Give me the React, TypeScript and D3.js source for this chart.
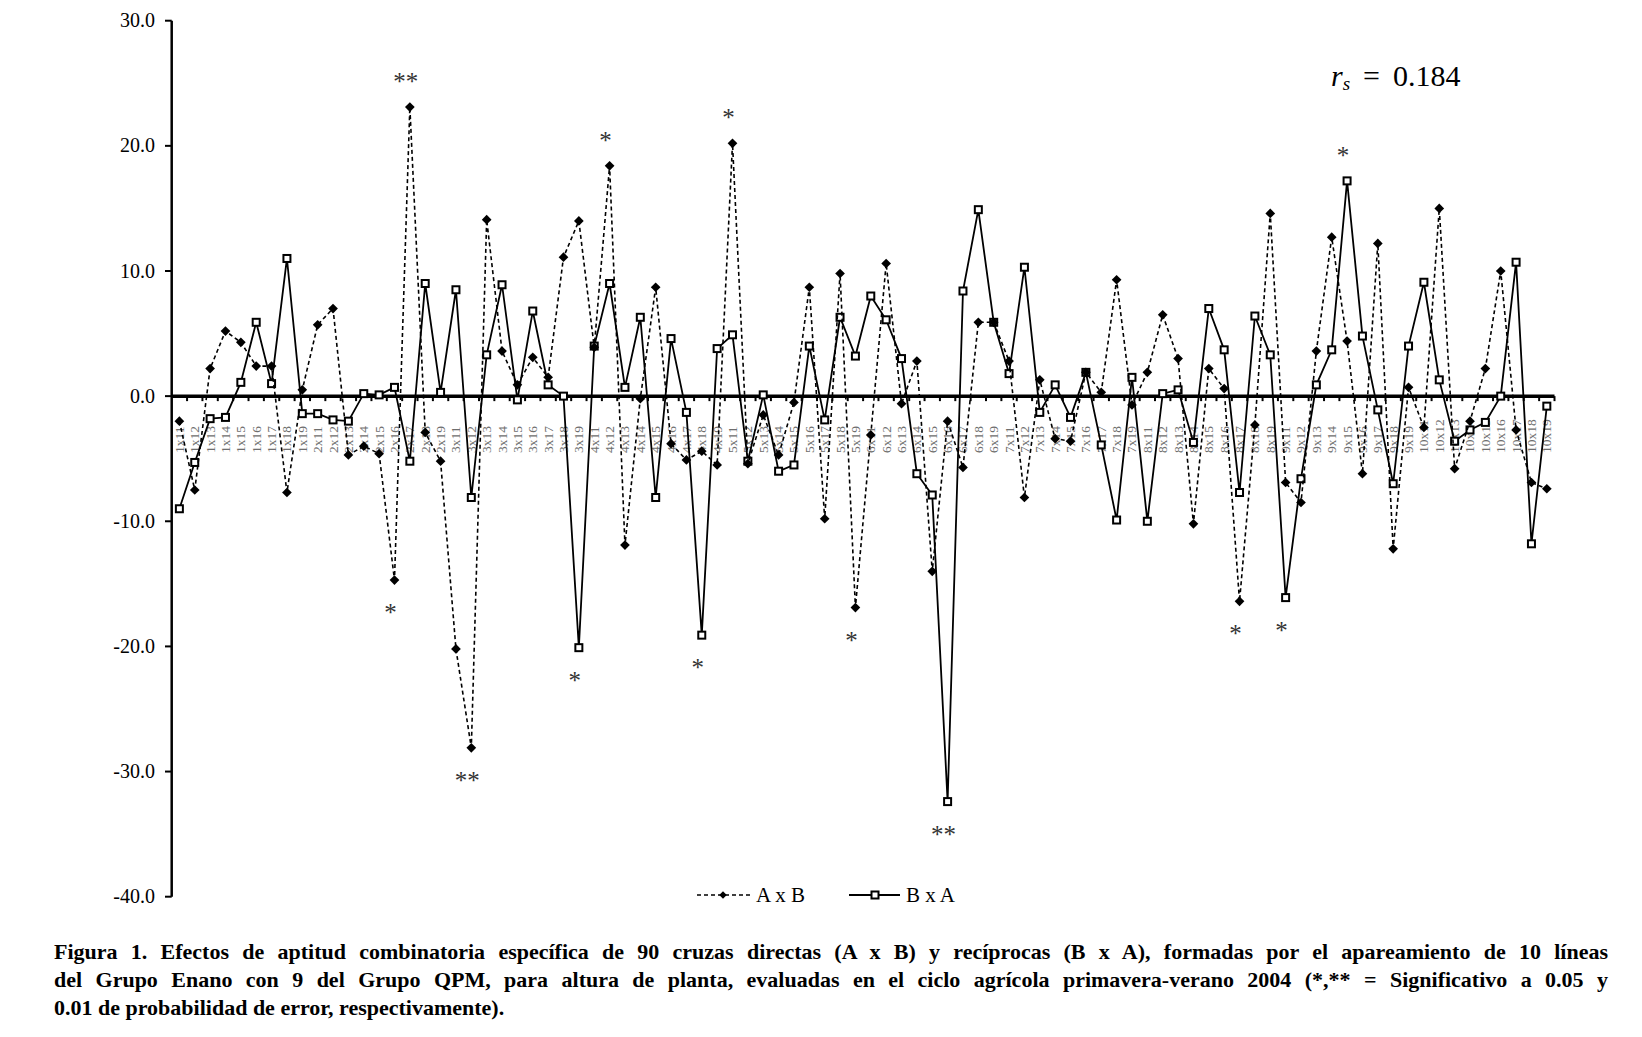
import React, { useRef, useLayoutEffect } from 'react';
import * as d3 from 'd3';

// lineas (A) y probadores (B)
const lineIds = [1, 2, 3, 4, 5, 6, 7, 8, 9, 10];
const testerIds = [11, 12, 13, 14, 15, 16, 17, 18, 19];
const crosses: string[] = lineIds.flatMap((l) => testerIds.map((t) => `${l}x${t}`));

// efectos ACE, cruzas directas (A x B)
const axb = [
  -2.0, -7.5, 2.2, 5.2, 4.3, 2.4, 2.4, -7.7, 0.5,
  5.7, 7.0, -4.7, -4.0, -4.6, -14.7, 23.1, -2.9, -5.2,
  -20.2, -28.1, 14.1, 3.6, 0.9, 3.1, 1.5, 11.1, 14.0,
  3.9, 18.4, -11.9, -0.2, 8.7, -3.8, -5.1, -4.4, -5.5,
  20.2, -5.4, -1.5, -4.7, -0.5, 8.7, -9.8, 9.8, -16.9,
  -3.1, 10.6, -0.6, 2.8, -14.0, -2.0, -5.7, 5.9, 5.9,
  2.8, -8.1, 1.3, -3.4, -3.6, 1.9, 0.3, 9.3, -0.7,
  1.9, 6.5, 3.0, -10.2, 2.2, 0.6, -16.4, -2.3, 14.6,
  -6.9, -8.5, 3.6, 12.7, 4.4, -6.2, 12.2, -12.2, 0.7,
  -2.5, 15.0, -5.8, -2.0, 2.2, 10.0, -2.7, -6.9, -7.4,
];

// efectos ACE, cruzas reciprocas (B x A)
const bxa = [
  -9.0, -5.3, -1.8, -1.7, 1.1, 5.9, 1.0, 11.0, -1.4,
  -1.4, -1.9, -2.0, 0.2, 0.1, 0.7, -5.2, 9.0, 0.3,
  8.5, -8.1, 3.3, 8.9, -0.3, 6.8, 0.9, 0.0, -20.1,
  4.0, 9.0, 0.7, 6.3, -8.1, 4.6, -1.3, -19.1, 3.8,
  4.9, -5.2, 0.1, -6.0, -5.5, 4.0, -1.9, 6.3, 3.2,
  8.0, 6.1, 3.0, -6.2, -7.9, -32.4, 8.4, 14.9, 5.9,
  1.8, 10.3, -1.3, 0.9, -1.7, 1.9, -3.9, -9.9, 1.5,
  -10.0, 0.2, 0.5, -3.7, 7.0, 3.7, -7.7, 6.4, 3.3,
  -16.1, -6.6, 0.9, 3.7, 17.2, 4.8, -1.1, -7.0, 4.0,
  9.1, 1.3, -3.6, -2.7, -2.1, 0.0, 10.7, -11.8, -0.8,
];

const yTicks = [30, 20, 10, 0, -10, -20, -30, -40];

// significancia: cruza, serie, marca, lado (-1 arriba, 1 abajo)
const signif = [
  { cross: '2x16', series: 'AB', mark: '*', side: 1 },
  { cross: '2x17', series: 'AB', mark: '**', side: -1 },
  { cross: '3x12', series: 'AB', mark: '**', side: 1 },
  { cross: '3x19', series: 'BA', mark: '*', side: 1 },
  { cross: '4x12', series: 'AB', mark: '*', side: -1 },
  { cross: '4x18', series: 'BA', mark: '*', side: 1 },
  { cross: '5x11', series: 'AB', mark: '*', side: -1 },
  { cross: '5x19', series: 'AB', mark: '*', side: 1 },
  { cross: '6x16', series: 'BA', mark: '**', side: 1 },
  { cross: '8x17', series: 'AB', mark: '*', side: 1 },
  { cross: '9x11', series: 'BA', mark: '*', side: 1 },
  { cross: '9x15', series: 'BA', mark: '*', side: -1 },
];

const captionLines = [
  'Figura 1. Efectos de aptitud combinatoria específica de 90 cruzas directas (A x B) y recíprocas (B x A), formadas por el apareamiento de 10 líneas',
  'del Grupo Enano con 9 del Grupo QPM, para altura de planta, evaluadas en el ciclo agrícola primavera-verano 2004 (*,** = Significativo a 0.05 y',
  '0.01 de probabilidad de error, respectivamente).',
];

const SERIF = 'Liberation Serif';

export default function App() {
  const capRef = useRef<SVGGElement>(null);

  const x = d3.scaleBand<string>().domain(crosses).range([171.7, 1554.5]);
  const y = d3.scaleLinear().domain([-40, 30]).range([896.7, 20.7]);
  const cx = (c: string) => (x(c) as number) + x.bandwidth() / 2;

  const line = d3
    .line<number>()
    .x((_, i) => cx(crosses[i]))
    .y((d) => y(d));

  const diamond = d3.symbol().type(d3.symbolDiamond2).size(60);
  const diamondSmall = d3.symbol().type(d3.symbolDiamond2).size(36);

  // justificar las dos primeras lineas del pie
  useLayoutEffect(() => {
    if (!capRef.current) return;
    const left = 54;
    const right = 1608;
    d3.select(capRef.current)
      .selectAll<SVGTextElement, unknown>('text.just')
      .each(function () {
        const el = this;
        el.style.wordSpacing = '0px';
        const w = el.getComputedTextLength();
        const spaces = (el.textContent || '').split(' ').length - 1;
        const extra = (right - left - w) / spaces;
        el.style.wordSpacing = `${extra}px`;
      });
  }, []);

  const zeroY = y(0);

  return (
    <svg
      width={1642}
      height={1037}
      style={{ position: 'absolute', left: 0, top: 0, background: '#fff' }}
      fontFamily={SERIF}
    >
      <rect width={1642} height={1037} fill="#fff" />

      {/* eje y */}
      <line x1={171.7} x2={171.7} y1={y(30)} y2={y(-40)} stroke="#000" strokeWidth={2.5} />
      {yTicks.map((t) => (
        <g key={t}>
          <line x1={165} x2={171.7} y1={y(t)} y2={y(t)} stroke="#000" strokeWidth={2} />
          <text x={155} y={y(t)} dy="0.33em" textAnchor="end" fontSize={20} fontFamily={SERIF} fill="#000">
            {t.toFixed(1)}
          </text>
        </g>
      ))}

      {/* etiquetas de cruzas */}
      {crosses.map((c) => (
        <text
          key={c}
          transform={`translate(${cx(c) + 4.5},453) rotate(-90)`}
          fontSize={13.5}
          fontFamily={SERIF}
          fill="#6e6e6e"
        >
          {c}
        </text>
      ))}

      {/* linea cero con marcas */}
      {crosses.map((c) => (
        <line
          key={'t' + c}
          x1={(x(c) as number) + x.bandwidth()}
          x2={(x(c) as number) + x.bandwidth()}
          y1={zeroY}
          y2={zeroY + 5}
          stroke="#000"
          strokeWidth={2}
        />
      ))}
      <line x1={171.7} x2={1554.5} y1={zeroY} y2={zeroY} stroke="#000" strokeWidth={3.5} />

      {/* B x A */}
      <path d={line(bxa) || ''} fill="none" stroke="#000" strokeWidth={1.8} />
      {bxa.map((v, i) => (
        <rect
          key={'b' + i}
          x={cx(crosses[i]) - 3.5}
          y={y(v) - 3.5}
          width={7}
          height={7}
          fill="#fff"
          stroke="#000"
          strokeWidth={2}
        />
      ))}

      {/* A x B */}
      <path d={line(axb) || ''} fill="none" stroke="#000" strokeWidth={1.6} strokeDasharray="4,3" />
      {axb.map((v, i) => (
        <path
          key={'a' + i}
          d={diamond() || ''}
          transform={`translate(${cx(crosses[i])},${y(v)})`}
          fill="#000"
        />
      ))}

      {/* significancia */}
      {signif.map((s) => {
        const i = crosses.indexOf(s.cross);
        const v = s.series === 'AB' ? axb[i] : bxa[i];
        const centerY = y(v) + s.side * 29;
        return (
          <text
            key={s.cross + s.series}
            x={cx(s.cross) - 4}
            y={centerY + 12}
            textAnchor="middle"
            fontSize={25}
            fontFamily={SERIF}
            fill="#333"
          >
            {s.mark}
          </text>
        );
      })}

      {/* coeficiente */}
      <text y={86} fontSize={30} fontFamily={SERIF} fill="#000">
        <tspan x={1331} fontStyle="italic">r</tspan>
        <tspan fontStyle="italic" fontSize={19} dy={4}>s</tspan>
        <tspan x={1363} dy={-4}>=</tspan>
        <tspan x={1393}>0.184</tspan>
      </text>

      {/* leyenda */}
      <g fontSize={21} fontFamily={SERIF}>
        <line x1={697} x2={750} y1={895} y2={895} stroke="#000" strokeWidth={1.5} strokeDasharray="4,3" />
        <path d={diamondSmall() || ''} transform="translate(723,895)" fill="#000" />
        <text x={756} y={902} fontFamily={SERIF}>A x B</text>
        <line x1={849} x2={900} y1={895} y2={895} stroke="#000" strokeWidth={1.8} />
        <rect x={871.5} y={891.5} width={7} height={7} fill="#fff" stroke="#000" strokeWidth={2} />
        <text x={906} y={902} fontFamily={SERIF}>B x A</text>
      </g>

      {/* pie de figura */}
      <g ref={capRef} fontSize={22} fontWeight="bold" fontFamily={SERIF} fill="#000">
        {captionLines.map((t, i) => (
          <text key={i} className={i < 2 ? 'just' : ''} x={54} y={959 + i * 28} fontFamily={SERIF}>
            {t}
          </text>
        ))}
      </g>
    </svg>
  );
}
